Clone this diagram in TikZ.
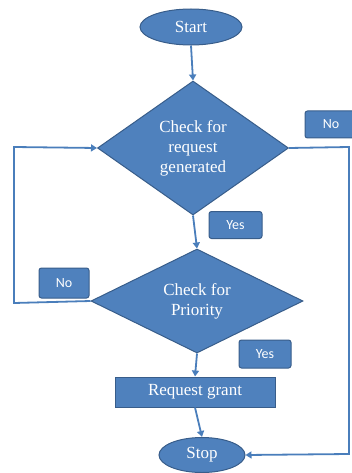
\documentclass[tikz,border=0pt]{standalone}
\usepackage{fontspec}
\setmainfont{Liberation Serif}
\newfontfamily\tagfont{Carlito}
\usetikzlibrary{shapes.geometric,arrows.meta}
\definecolor{boxfill}{HTML}{4F81BD}
\definecolor{boxedge}{HTML}{385D8A}
\definecolor{flowline}{HTML}{4A7EBB}
\tikzset{
  shapebase/.style={fill=boxfill,draw=boxedge,line width=1pt,text=white,
    font=\fontsize{17}{20}\selectfont,align=center,inner sep=0pt},
  terminal/.style={shapebase,ellipse},
  decision/.style={shapebase,diamond},
  process/.style={shapebase,rectangle},
  tagbox/.style={fill=boxfill,draw=boxedge,line width=1pt,text=white,
    rounded corners=2.5pt,font=\tagfont\fontsize{14}{15}\selectfont,inner sep=0pt},
  flow/.style={draw=flowline,line width=1.8pt,-{Triangle[length=6pt,width=7pt]}},
}
\begin{document}
\begin{tikzpicture}[x=1pt,y=-1pt]
\useasboundingbox (0,0) rectangle (351,473);
% main chain
\node[terminal,minimum width=102pt,minimum height=36pt] (start) at (191,27) {Start};
\node[decision,minimum width=191pt,minimum height=134pt] (d1) at (193,148)
  {Check for\\request\\generated};
\node[decision,minimum width=212pt,minimum height=104pt] (d2) at (197,301)
  {Check for\\Priority};
\node[process,minimum width=160pt,minimum height=30pt] (grant) at (195,392) {Request grant};
\node[terminal,minimum width=86pt,minimum height=35pt] (stop) at (202,455) {Stop};
% branch labels
\node[tagbox,minimum width=52pt,minimum height=27pt] (no1) at (331,124.5) {No};
\node[tagbox,minimum width=53pt,minimum height=27pt] (yes1) at (235.5,225) {Yes};
\node[tagbox,minimum width=50pt,minimum height=30pt] (no2) at (64,283) {No};
\node[tagbox,minimum width=52pt,minimum height=28pt] (yes2) at (265,354) {Yes};
% corner points of the loops
\coordinate (rtop) at (349,147);
\coordinate (rbot) at (349,454);
\coordinate (lbot) at (14,303);
\coordinate (ltop) at (14,147);
% connectors
\draw[flow] (start.south) -- (d1.north);
\draw[flow] (d1.south) -- (d2.north);
\draw[flow] (d2.south) -- (grant.north);
\draw[flow] (grant.south) -- (stop.north);
\draw[flow] (d1.east) -- (rtop) -- (rbot) -- (stop.east);
\draw[flow] (d2.west) -- (lbot) -- (ltop) -- (d1.west);
\end{tikzpicture}
\end{document}
